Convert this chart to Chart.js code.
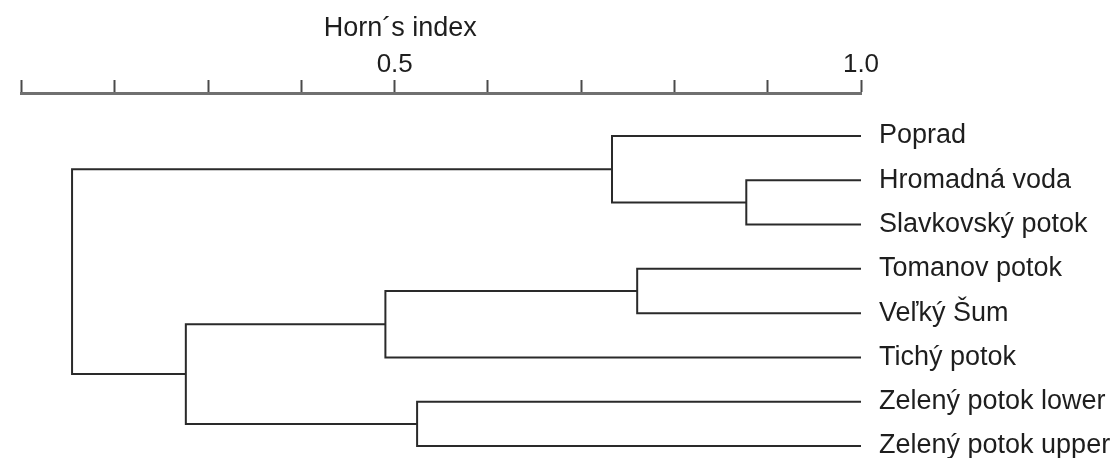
<!DOCTYPE html>
<html>
<head>
<meta charset="utf-8">
<title>Horn´s index dendrogram</title>
<script src="https://cdn.jsdelivr.net/npm/chart.js@4/dist/chart.umd.min.js"></script>
<style>
  html, body { margin: 0; padding: 0; background: #ffffff; }
  #wrap { width: 1119px; height: 458px; position: relative; }
</style>
</head>
<body>
<div id="wrap"><canvas id="chart"></canvas></div>
<script>
// Sites, in leaf order from top to bottom
const leaves = ['Poprad', 'Hromadná voda', 'Slavkovský potok', 'Tomanov potok',
                'Veľký Šum', 'Tichý potok', 'Zelený potok lower', 'Zelený potok upper'];

// Agglomeration steps: child A, child B (L = leaf index, N = earlier merge), Horn's similarity
const mergeA = ['L1', 'L3', 'L0', 'L6', 'N1', 'N4', 'N2'];
const mergeB = ['L2', 'L4', 'N0', 'L7', 'L5', 'N3', 'N5'];
const mergeSimilarity = [0.877, 0.760, 0.733, 0.524, 0.490, 0.276, 0.154];

// Axis ticks and their labels
const axisTicks  = [0.1, 0.2, 0.3, 0.4, 0.5, 0.6, 0.7, 0.8, 0.9, 1.0];
const axisLabels = ['', '', '', '', '0.5', '', '', '', '', '1.0'];
const axisTitle = 'Horn´s index';

// Resolve each node to an (x, y) position: leaves sit at similarity 1.0
const nodes = [];
function nodePos(ref) {
  const i = parseInt(ref.slice(1), 10);
  return ref[0] === 'L' ? { x: 1.0, y: i } : nodes[i];
}
const linkSets = mergeSimilarity.map((h, k) => {
  const a = nodePos(mergeA[k]);
  const b = nodePos(mergeB[k]);
  nodes.push({ x: h, y: (a.y + b.y) / 2 });
  return {
    data: [{ x: a.x, y: a.y }, { x: h, y: a.y }, { x: h, y: b.y }, { x: b.x, y: b.y }],
    showLine: true,
    borderColor: '#2a2a2a',
    borderWidth: 2,
    pointRadius: 0,
    pointHoverRadius: 0,
    fill: false,
    tension: 0,
    borderJoinStyle: 'miter',
    borderCapStyle: 'butt',
    clip: false
  };
});

const FONT = "'Liberation Sans', Arial, Helvetica, sans-serif";

// Axis caption centred over the middle of the labelled range
const captionPlugin = {
  id: 'axisCaption',
  afterDraw(chart, args, opts) {
    const { ctx } = chart;
    const xs = chart.scales.x;
    ctx.save();
    ctx.font = opts.size + 'px ' + FONT;
    ctx.fillStyle = opts.color;
    ctx.textAlign = 'center';
    ctx.textBaseline = 'middle';
    ctx.fillText(opts.text, xs.getPixelForValue(opts.at), opts.y);
    ctx.restore();
  }
};

new Chart(document.getElementById('chart'), {
  type: 'scatter',
  data: { datasets: linkSets },
  plugins: [captionPlugin],
  options: {
    responsive: true,
    maintainAspectRatio: false,
    animation: false,
    events: [],
    layout: { padding: { left: 21.7, right: 0, top: 0, bottom: 0 } },
    plugins: {
      legend: { display: false },
      tooltip: { enabled: false },
      axisCaption: { text: axisTitle, at: 0.506, y: 29, size: 27, color: '#1e1e1e' }
    },
    scales: {
      x: {
        type: 'linear',
        position: 'top',
        min: 0.1,
        max: 1.0,
        afterBuildTicks: s => { s.ticks = axisTicks.map(v => ({ value: v })); },
        afterFit: s => { s.height = 93; },
        ticks: {
          autoSkip: false,
          maxRotation: 0,
          padding: 0,
          color: '#1e1e1e',
          font: { family: FONT, size: 26 },
          callback: (v, i) => axisLabels[i]
        },
        grid: {
          drawOnChartArea: false,
          drawTicks: true,
          tickLength: 13,
          tickWidth: 2,
          tickColor: '#4a4a4a'
        },
        border: { display: true, color: '#707070', width: 3 }
      },
      y: {
        type: 'linear',
        position: 'right',
        reverse: true,
        min: -0.97,
        max: 7.27,
        afterBuildTicks: s => { s.ticks = leaves.map((_, i) => ({ value: i })); },
        afterFit: s => {
          s.width = 258;
          s.paddingTop = 0;
          s.paddingBottom = 0;
        },
        ticks: {
          autoSkip: false,
          padding: 18,
          color: '#1e1e1e',
          font: { family: FONT, size: 27 },
          callback: (v, i) => leaves[i]
        },
        grid: { display: false, drawTicks: false, tickLength: 0 },
        border: { display: false }
      }
    }
  }
});
</script>
</body>
</html>
